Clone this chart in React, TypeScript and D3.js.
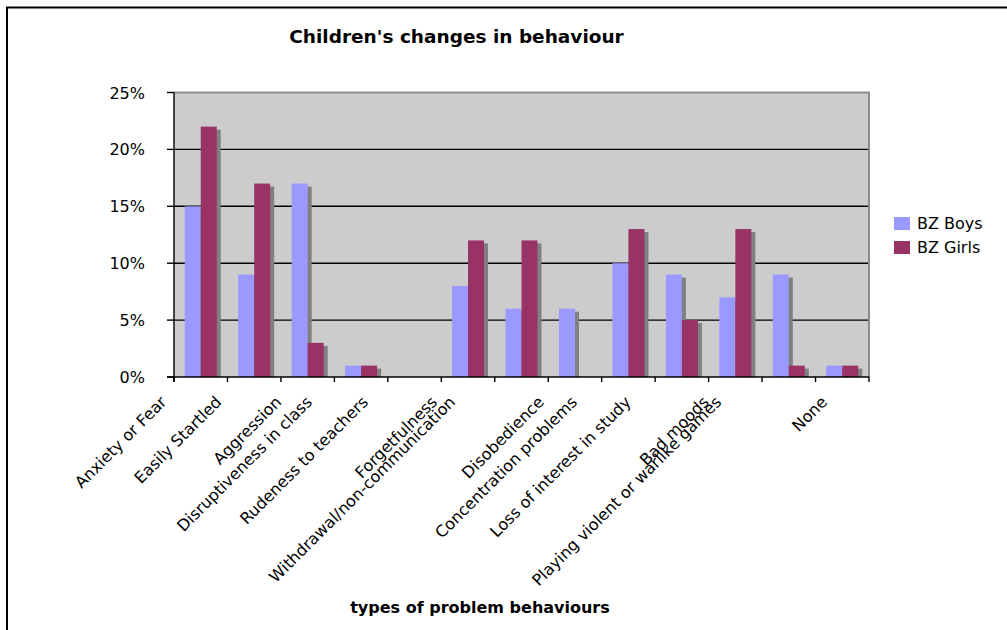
import React, { useEffect, useRef } from "react";
import * as d3 from "d3";

// Problem behaviour categories along the x axis
const categories = [
  "Anxiety or Fear",
  "Easily Startled",
  "Aggression",
  "Disruptiveness in class",
  "Rudeness to teachers",
  "Forgetfulness",
  "Withdrawal/non-communication",
  "Disobedience",
  "Concentration problems",
  "Loss of interest in study",
  "Bad moods",
  "Playing violent or warlike games",
  "None",
];

// Share of children showing each behaviour
const boys = [0.15, 0.09, 0.17, 0.01, 0, 0.08, 0.06, 0.06, 0.1, 0.09, 0.07, 0.09, 0.01];
const girls = [0.22, 0.17, 0.03, 0.01, 0, 0.12, 0.12, 0, 0.13, 0.05, 0.13, 0.01, 0.01];

const seriesNames = ["BZ Boys", "BZ Girls"];
const seriesColors = ["#9999ff", "#993366"];
const yTicks = [0, 0.05, 0.1, 0.15, 0.2, 0.25];

const titleText = "Children's changes in behaviour";
const xTitleText = "types of problem behaviours";

const FONT = "'DejaVu Sans', Verdana, sans-serif";

export default function App() {
  const ref = useRef<SVGSVGElement>(null);

  useEffect(() => {
    const W = 1007;
    const H = 630;
    const svg = d3.select(ref.current);
    svg.selectAll("*").remove();

    const plot = { left: 174, right: 869, top: 92.5, bottom: 377 };

    svg.append("rect").attr("width", W).attr("height", H).attr("fill", "#fff");

    // outer chart frame
    svg
      .append("rect")
      .attr("x", 7)
      .attr("y", 7.5)
      .attr("width", W + 20)
      .attr("height", H + 20)
      .attr("fill", "none")
      .attr("stroke", "#000")
      .attr("stroke-width", 2);

    const x0 = d3.scaleBand<string>().domain(categories).range([plot.left, plot.right]);
    const gapRatio = 1.34;
    const barW = x0.bandwidth() / (2 + gapRatio);
    const x1 = d3
      .scaleBand<string>()
      .domain(seriesNames)
      .range([(barW * gapRatio) / 2, (barW * gapRatio) / 2 + 2 * barW]);
    const y = d3.scaleLinear().domain([0, 0.25]).range([plot.bottom, plot.top]);

    // plot area background
    svg
      .append("rect")
      .attr("x", plot.left)
      .attr("y", plot.top)
      .attr("width", plot.right - plot.left)
      .attr("height", plot.bottom - plot.top)
      .attr("fill", "#cccccc");

    // horizontal gridlines
    svg
      .append("g")
      .selectAll("line")
      .data(yTicks.slice(1, -1))
      .join("line")
      .attr("x1", plot.left)
      .attr("x2", plot.right)
      .attr("y1", (d) => y(d))
      .attr("y2", (d) => y(d))
      .attr("stroke", "#000")
      .attr("stroke-width", 1.4);

    const series = [boys, girls];
    const rows = categories.flatMap((c, i) =>
      seriesNames.map((s, k) => ({ cat: c, name: s, k, v: series[k][i] }))
    );
    const bars = rows.filter((r) => r.v > 0);

    // drop shadows behind the bars
    const shadowDx = 4;
    const shadowDy = 3;
    svg
      .append("g")
      .selectAll("rect")
      .data(bars)
      .join("rect")
      .attr("x", (d) => (x0(d.cat) as number) + (x1(d.name) as number) + shadowDx)
      .attr("y", (d) => y(d.v) + shadowDy)
      .attr("width", x1.bandwidth())
      .attr("height", (d) => Math.max(0, plot.bottom - y(d.v) - shadowDy))
      .attr("fill", "#808080");

    // bars
    svg
      .append("g")
      .selectAll("rect")
      .data(bars)
      .join("rect")
      .attr("x", (d) => (x0(d.cat) as number) + (x1(d.name) as number))
      .attr("y", (d) => y(d.v))
      .attr("width", x1.bandwidth())
      .attr("height", (d) => plot.bottom - y(d.v))
      .attr("fill", (d) => seriesColors[d.k]);

    // plot area border (top and right)
    svg
      .append("path")
      .attr("d", `M${plot.left},${plot.top}H${plot.right}V${plot.bottom}`)
      .attr("fill", "none")
      .attr("stroke", "#8c8c8c")
      .attr("stroke-width", 2);

    // axes lines
    svg
      .append("line")
      .attr("x1", plot.left)
      .attr("x2", plot.left)
      .attr("y1", plot.top)
      .attr("y2", plot.bottom + 5)
      .attr("stroke", "#000")
      .attr("stroke-width", 1.4);
    svg
      .append("line")
      .attr("x1", plot.left - 7)
      .attr("x2", plot.right)
      .attr("y1", plot.bottom)
      .attr("y2", plot.bottom)
      .attr("stroke", "#000")
      .attr("stroke-width", 1.4);

    // y ticks and labels
    const fmt = d3.format(".0%");
    const yg = svg.append("g");
    yg.selectAll("line")
      .data(yTicks)
      .join("line")
      .attr("x1", plot.left - 7)
      .attr("x2", plot.left)
      .attr("y1", (d) => y(d))
      .attr("y2", (d) => y(d))
      .attr("stroke", "#000")
      .attr("stroke-width", 1.4);
    yg.selectAll("text")
      .data(yTicks)
      .join("text")
      .attr("x", 145)
      .attr("y", (d) => y(d) + 6)
      .attr("text-anchor", "end")
      .attr("font-family", FONT)
      .attr("font-size", 16)
      .attr("fill", "#000")
      .text((d) => fmt(d));

    // x ticks at category boundaries
    const bounds = categories.map((c) => x0(c) as number).concat([plot.right]);
    svg
      .append("g")
      .selectAll("line")
      .data(bounds)
      .join("line")
      .attr("x1", (d) => d)
      .attr("x2", (d) => d)
      .attr("y1", plot.bottom)
      .attr("y2", plot.bottom + 5)
      .attr("stroke", "#000")
      .attr("stroke-width", 1.4);

    // rotated category labels, shifted left in proportion to their length
    const xl = svg.append("g");
    categories.forEach((c) => {
      const t = xl
        .append("text")
        .attr("text-anchor", "end")
        .attr("font-family", FONT)
        .attr("font-size", 16)
        .attr("fill", "#000")
        .text(c);
      const node = t.node() as SVGTextElement;
      const len = node.getComputedTextLength();
      const cx = (x0(c) as number) + x0.bandwidth() / 2;
      t.attr("transform", `translate(${cx - 0.24 * len - 4},${plot.bottom + 26}) rotate(-45)`);
    });

    // titles
    svg
      .append("text")
      .attr("x", 456.5)
      .attr("y", 43)
      .attr("text-anchor", "middle")
      .attr("font-family", FONT)
      .attr("font-weight", "bold")
      .attr("font-size", 18.5)
      .attr("fill", "#000")
      .text(titleText);
    svg
      .append("text")
      .attr("x", 480)
      .attr("y", 613)
      .attr("text-anchor", "middle")
      .attr("font-family", FONT)
      .attr("font-weight", "bold")
      .attr("font-size", 16)
      .attr("fill", "#000")
      .text(xTitleText);

    // legend
    const lg = svg.append("g");
    seriesNames.forEach((s, k) => {
      lg.append("rect")
        .attr("x", 894)
        .attr("y", 217 + k * 24)
        .attr("width", 16)
        .attr("height", 13)
        .attr("fill", seriesColors[k]);
      lg.append("text")
        .attr("x", 917)
        .attr("y", 229 + k * 24)
        .attr("font-family", FONT)
        .attr("font-size", 16)
        .attr("fill", "#000")
        .text(s);
    });
  }, []);

  return (
    <svg
      ref={ref}
      width={1007}
      height={630}
      style={{ position: "absolute", left: 0, top: 0, display: "block" }}
    />
  );
}
